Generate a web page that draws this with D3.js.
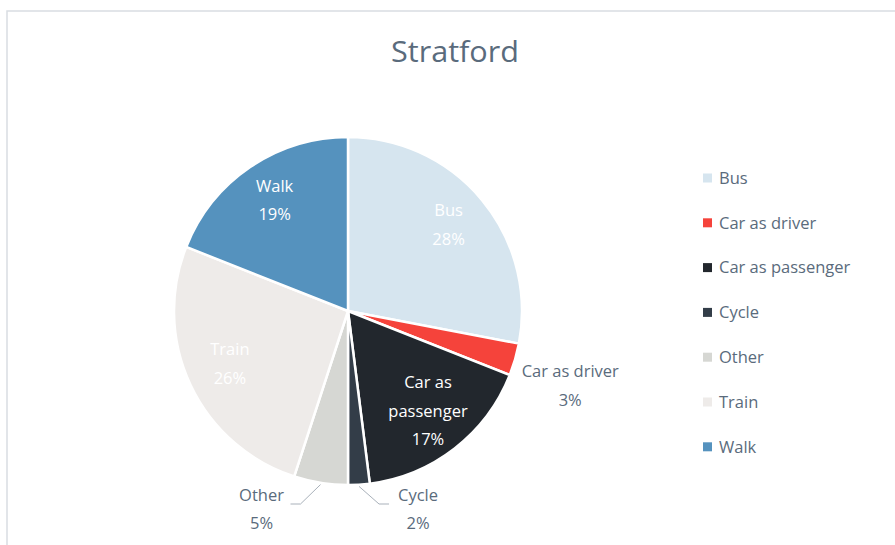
<!DOCTYPE html>
<html><head><meta charset="utf-8">
<script src="https://cdn.jsdelivr.net/npm/d3@7"></script>
<style>body{margin:0;background:#fff;}svg{display:block;font-family:"Open Sans",sans-serif;}</style>
</head><body>
<svg id="c" width="895" height="545"></svg>
<script>
const title = "Stratford";
const categories = ["Bus","Car as driver","Car as passenger","Cycle","Other","Train","Walk"];
const values = [28,3,17,2,5,26,19];
const colors = ["#d6e5ef","#f5433b","#22272d","#333d48","#d6d7d3","#eeebe9","#5592be"];
const labelInside = [true,false,true,false,false,true,true];

const svg = d3.select("#c");
const W = 895, H = 545;
const cx = 348, cy = 311, R = 174;
const textCol = "#5a6b7c";

svg.append("rect").attr("x",7).attr("y",11).attr("width",W).attr("height",H)
  .attr("fill","#fff").attr("stroke","#d9dde2").attr("stroke-width",1.5);

svg.append("text").attr("x",455).attr("y",62).attr("text-anchor","middle")
  .attr("font-size",29).attr("fill",textCol).attr("textLength",128).attr("lengthAdjust","spacingAndGlyphs").text(title);

const data = categories.map((c,i)=>({name:c,value:values[i],color:colors[i],inside:labelInside[i]}));
const pie = d3.pie().value(d=>d.value).sort(null);
const arcs = pie(data);
const arc = d3.arc().innerRadius(0).outerRadius(R);
const g = svg.append("g").attr("transform",`translate(${cx},${cy})`);

g.selectAll("path.slice").data(arcs).enter().append("path")
  .attr("d",arc).attr("fill",d=>d.data.color)
  .attr("stroke","#fff").attr("stroke-width",2.5).attr("stroke-linejoin","round");

const lblArc = d3.arc().innerRadius(R*0.75).outerRadius(R*0.75);
const fs = 16.5, lh = 28.5;
function lines(d){
  const words = d.data.name==="Car as passenger" ? ["Car as","passenger"] : [d.data.name];
  return words.concat([d.data.value+"%"]);
}
arcs.forEach(d=>{
  const mid = (d.startAngle+d.endAngle)/2;
  const ls = lines(d);
  let x, y, anchor="middle", col;
  if (d.data.inside){
    [x,y] = lblArc.centroid(d);
    y -= 3;
    col = "#ffffff";
  } else {
    col = textCol;
    const sx = Math.sin(mid), sy = -Math.cos(mid);
    if (Math.abs(sy) < 0.9){
      x = sx*R*1.33; y = sy*R*1.33+10;
    } else {
      const p0 = [sx*R*1.01, sy*R*1.01];
      const dir = sx < 0 ? -1 : 1;
      const ly = 193;
      const p1 = [p0[0]+dir*20, ly];
      const p2 = [p1[0]+dir*10, ly];
      g.append("polyline").attr("points",[p0,p1,p2].map(p=>p.join(",")).join(" "))
        .attr("fill","none").attr("stroke","#a9b1ba").attr("stroke-width",1);
      x = p2[0] + dir*(ls[0].length*4.6+6); y = ly+5;
    }
  }
  const t = g.append("text").attr("text-anchor",anchor).attr("font-size",fs).attr("fill",col);
  const y0 = y - (ls.length-1)*lh/2;
  ls.forEach((s,i)=>t.append("tspan").attr("x",x).attr("y",y0+i*lh).attr("dy","0.35em").text(s));
});

const lg = svg.append("g").attr("transform","translate(703,178)");
const items = lg.selectAll("g").data(data).enter().append("g")
  .attr("transform",(d,i)=>`translate(0,${i*44.8})`);
items.append("rect").attr("x",0).attr("y",-4.5).attr("width",9).attr("height",9).attr("fill",d=>d.color);
items.append("text").attr("x",16).attr("y",0).attr("dy","0.35em").attr("font-size",fs)
  .attr("fill",textCol).text(d=>d.name);
</script>
</body></html>
